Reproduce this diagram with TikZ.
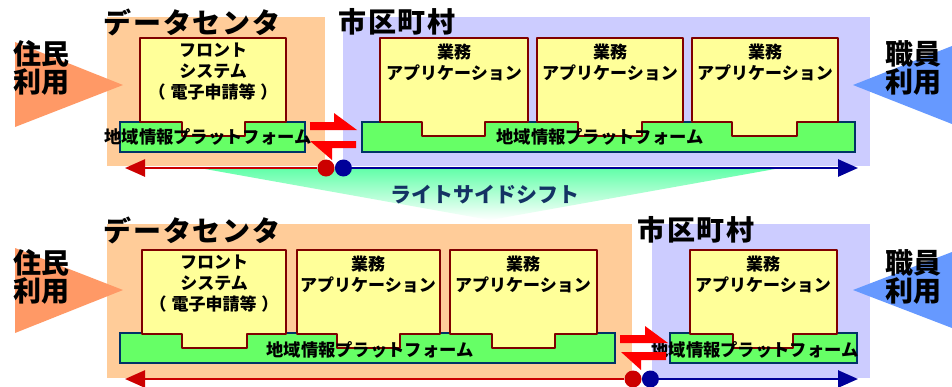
\documentclass[tikz,border=0pt]{standalone}
\usepackage{fontspec}
\setmainfont{Noto Sans CJK JP}
\newfontfamily\titlefont[LetterSpace=6]{Noto Sans CJK JP}
\usepackage{tikz}
\usetikzlibrary{positioning,arrows.meta}

\definecolor{dcpeach}{RGB}{255,204,153}
\definecolor{citylav}{RGB}{204,204,255}
\definecolor{appyellow}{RGB}{255,255,153}
\definecolor{boxred}{RGB}{128,0,0}
\definecolor{pfgreen}{RGB}{102,255,102}
\definecolor{pfblue}{RGB}{0,51,102}
\definecolor{userorange}{RGB}{255,153,102}
\definecolor{staffblue}{RGB}{102,153,255}
\definecolor{arrred}{RGB}{204,0,0}
\definecolor{arrblue}{RGB}{0,0,153}
\definecolor{shiftgreen}{RGB}{100,255,170}
\definecolor{shifttext}{RGB}{20,50,100}

\tikzset{
  appbox/.style={fill=appyellow, draw=boxred, line width=2.4pt, line join=round},
  pform/.style={fill=pfgreen, draw=pfblue, line width=2.4pt},
  boxtext/.style={font=\bfseries\fontsize{17}{21}\selectfont, align=center, inner sep=0pt},
  pftext/.style={font=\bfseries\fontsize{17.3}{18}\selectfont, inner sep=0pt},
  title/.style={font=\titlefont\bfseries\fontsize{28}{30}\selectfont, inner sep=0pt},
  usertext/.style={font=\bfseries\fontsize{28}{28}\selectfont, align=center, inner sep=0pt},
  dot/.style={circle, minimum size=17pt, inner sep=0pt},
  redarrow/.style={draw=arrred, line width=2.6pt, -{Triangle[length=20pt,width=17pt]}},
  bluearrow/.style={draw=arrblue, line width=2.6pt, -{Triangle[length=20pt,width=17pt]}},
  harpoon/.style={fill=red}
}

% yellow box with tab: left, right, tab left, tab right, top
\newcommand{\tabbox}[5]{%
  \draw[appbox] (#1,#5) -- (#2,#5) -- (#2,#5+84) -- (#4,#5+84) -- (#4,#5+98)
     -- (#3,#5+98) -- (#3,#5+84) -- (#1,#5+84) -- cycle;}

\begin{document}
\begin{tikzpicture}[x=1pt,y=-1pt]
  \useasboundingbox[fill=white] (0,0) rectangle (952,386);

  % zones
  \fill[dcpeach] (107,17) rectangle (325,166);
  \fill[citylav] (343,17) rectangle (870,166);
  \fill[dcpeach] (107,224) rectangle (632,378);
  \fill[citylav] (652,224) rectangle (870,378);

  % shift fan
  \shade[top color=shiftgreen, bottom color=white] (205,169) -- (775,169) -- (490,220) -- cycle;
  \node[font=\bfseries\fontsize{21}{23}\selectfont, text=shifttext](shift) at (485,195) {ライトサイドシフト};

  % users
  \fill[userorange] (15,42) -- (123,85) -- (15,127) -- cycle;
  \fill[staffblue] (952,46) -- (853,85) -- (952,124) -- cycle;
  \fill[userorange] (15,248) -- (123,290) -- (15,333) -- cycle;
  \fill[staffblue] (952,252) -- (853,290) -- (952,328) -- cycle;
  \node[usertext](ju1) at (41,68) {住民\\利用};
  \node[usertext](sy1) at (913,68) {職員\\利用};
  \node[usertext](ju2) at (41,277) {住民\\利用};
  \node[usertext](sy2) at (913,277) {職員\\利用};

  % upper: platforms and boxes
  \draw[pform] (120,122) rectangle (305,152);
  \draw[pform] (362,122) rectangle (855,152);
  \tabbox{140}{286}{182}{245}{38}
  \tabbox{380}{528}{422}{485}{38}
  \tabbox{537}{683}{578}{642}{38}
  \tabbox{692}{838}{732}{797}{38}
  \node[boxtext](front1) at (213,72) {フロント\\システム\\（\hspace{5pt}電子申請等\hspace{5pt}）};
  \node[boxtext](app1) at (454,62) {業務\\アプリケーション};
  \node[boxtext](app2) at (610,62) {業務\\アプリケーション};
  \node[boxtext](app3) at (765,62) {業務\\アプリケーション};
  \node[pftext](pf1) at (208,137) {地域情報プラットフォーム};
  \node[pftext](pf2) at (600,137) {地域情報プラットフォーム};

  % lower: platforms and boxes
  \draw[pform] (120,333) rectangle (615,363);
  \draw[pform] (670,333) rectangle (857,363);
  \tabbox{142}{286}{182}{247}{250}
  \tabbox{297}{440}{337}{400}{250}
  \tabbox{450}{597}{492}{555}{250}
  \tabbox{690}{837}{733}{793}{250}
  \node[boxtext](front2) at (214,284) {フロント\\システム\\（\hspace{5pt}電子申請等\hspace{5pt}）};
  \node[boxtext](app4) at (368,274) {業務\\アプリケーション};
  \node[boxtext](app5) at (523,274) {業務\\アプリケーション};
  \node[boxtext](app6) at (763,274) {業務\\アプリケーション};
  \node[pftext](pf3) at (370,350) {地域情報プラットフォーム};
  \node[pftext](pf4) at (755,350) {地域情報プラットフォーム};

  % exchange harpoons
  \fill[harpoon] (310,122) -- (334,122) -- (334,113) -- (357,130) -- (310,130) -- cycle;
  \fill[harpoon] (356,141) -- (310,141) -- (332,160) -- (332,148) -- (356,148) -- cycle;
  \fill[harpoon] (620,335) -- (645,335) -- (645,326) -- (668,343) -- (620,343) -- cycle;
  \fill[harpoon] (666,352) -- (621,352) -- (641,370) -- (641,360) -- (666,360) -- cycle;

  % split lines
  \node[dot, fill=arrred](rdot1) at (326,168) {};
  \node[dot, fill=arrblue](bdot1)[right=0pt of rdot1] {};
  \coordinate (rend1) at (125,168);
  \coordinate (bend1) at (858,168);
  \draw[redarrow] (rdot1) -- (rend1);
  \draw[bluearrow] (bdot1) -- (bend1);
  \node[dot, fill=arrred](rdot2) at (633,379) {};
  \node[dot, fill=arrblue](bdot2)[right=0pt of rdot2] {};
  \coordinate (rend2) at (125,379);
  \coordinate (bend2) at (858,379);
  \draw[redarrow] (rdot2) -- (rend2);
  \draw[bluearrow] (bdot2) -- (bend2);

  % titles
  \node[title](dc1) at (192,22) {データセンタ};
  \node[title](city1) at (397,22) {市区町村};
  \node[title](dc2) at (192,230) {データセンタ};
  \node[title](city2) at (696,230) {市区町村};
\end{tikzpicture}
\end{document}
